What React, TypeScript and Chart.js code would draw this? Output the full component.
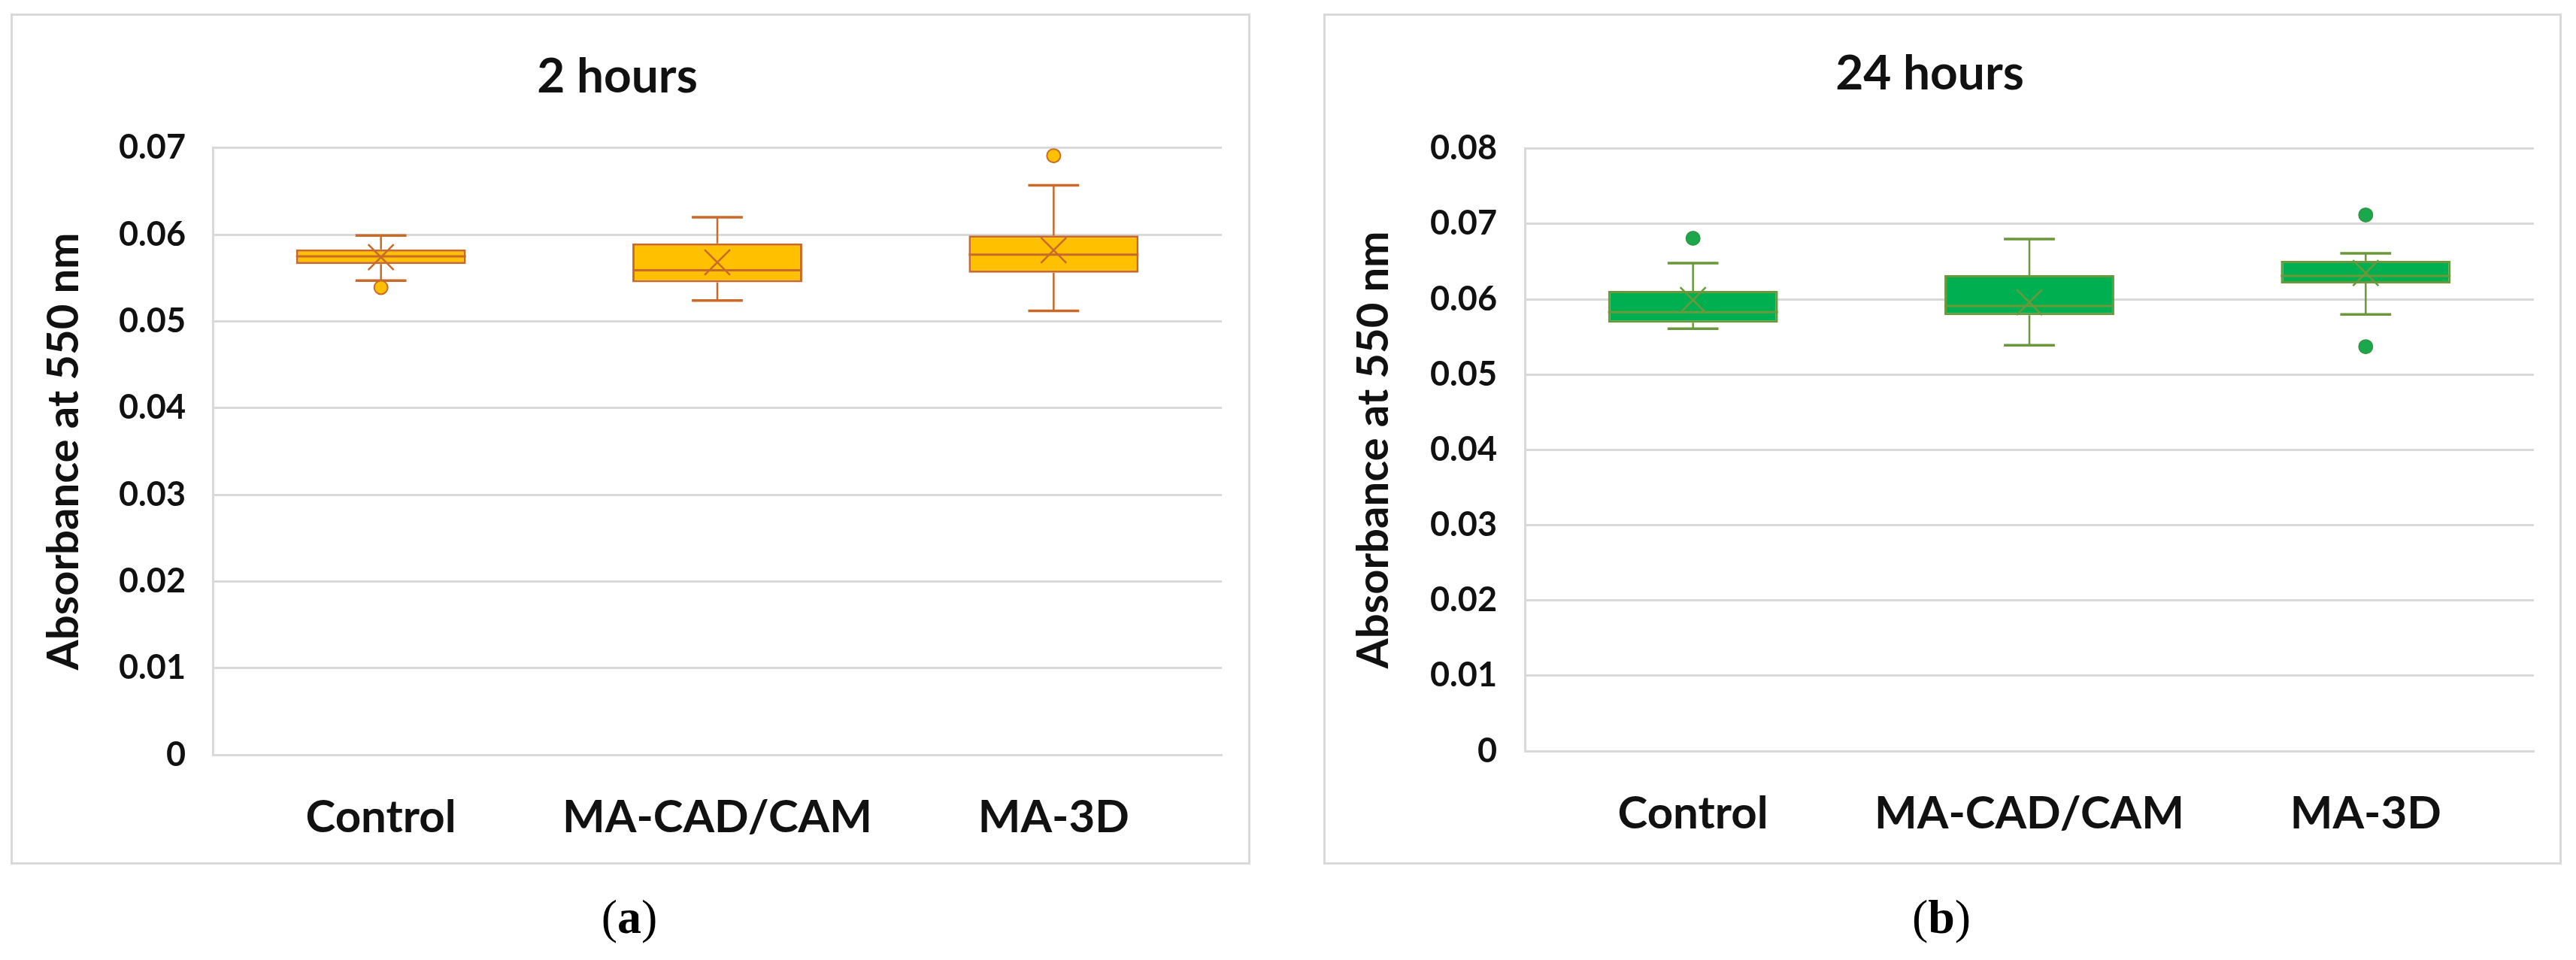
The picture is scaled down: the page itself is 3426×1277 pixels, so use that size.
import React, { useEffect, useRef } from "react";
import { Chart, registerables } from "chart.js";

Chart.register(...registerables);

// ---------- data ----------
const categories = ["Control", "MA-CAD/CAM", "MA-3D"];

// panel (a) — 2 hours
const title2h = "2 hours";
const yTicks2h = [0, 0.01, 0.02, 0.03, 0.04, 0.05, 0.06, 0.07];
const whiskerLow2h = [0.0547, 0.0524, 0.0512];
const q1_2h = [0.0566, 0.0545, 0.0556];
const median2h = [0.0575, 0.0559, 0.0577];
const q3_2h = [0.0583, 0.059, 0.0599];
const whiskerHigh2h = [0.0599, 0.062, 0.0657];
const mean2h = [0.0574, 0.0568, 0.0582];
const outlierCats2h = ["Control", "MA-3D"];
const outlierVals2h = [0.0539, 0.0691];

// panel (b) — 24 hours
const title24h = "24 hours";
const yTicks24h = [0, 0.01, 0.02, 0.03, 0.04, 0.05, 0.06, 0.07, 0.08];
const whiskerLow24h = [0.0561, 0.0539, 0.058];
const q1_24h = [0.0569, 0.0579, 0.0621];
const median24h = [0.0583, 0.0591, 0.0631];
const q3_24h = [0.0611, 0.0632, 0.0651];
const whiskerHigh24h = [0.0648, 0.068, 0.0661];
const mean24h = [0.0599, 0.0596, 0.0635];
const outlierCats24h = ["Control", "MA-3D", "MA-3D"];
const outlierVals24h = [0.0681, 0.0712, 0.0537];

const yAxisTitle = "Absorbance at 550 nm";

// ---------- styles ----------
const FONT = "Lato";
const GRID = "#D9D9D9";
const TEXT = "#111111";

type Panel = {
  title: string;
  yTicks: number[];
  low: number[];
  q1: number[];
  med: number[];
  q3: number[];
  high: number[];
  mean: number[];
  outCats: string[];
  outVals: number[];
  fill: string;
  line: string;
  dotFill: string;
  dotLine: string;
  // layout
  frame: { left: number; top: number; width: number; height: number };
  yWidth: number;
  yTitlePad: number;
  yTickPad: number;
  xHeight: number;
  padRight: number;
  titlePadTop: number;
  titlePadBottom: number;
};

function whiskerPlugin(p: Panel) {
  return {
    id: "whiskers",
    afterDatasetDraw(chart: any, args: any) {
      if (args.index !== 0) return;
      const ctx = chart.ctx;
      const xs = chart.scales.x;
      const ys = chart.scales.y;
      const meta = chart.getDatasetMeta(0);
      ctx.save();
      ctx.strokeStyle = p.line;
      ctx.lineCap = "butt";
      categories.forEach((_, i) => {
        const el: any = meta.data[i];
        const cx = xs.getPixelForValue(i);
        const half = el.width / 2;
        const cap = half * 0.3;
        const yLow = ys.getPixelForValue(p.low[i]);
        const yQ1 = ys.getPixelForValue(p.q1[i]);
        const yMed = ys.getPixelForValue(p.med[i]);
        const yQ3 = ys.getPixelForValue(p.q3[i]);
        const yHigh = ys.getPixelForValue(p.high[i]);
        ctx.lineWidth = 2.5;
        ctx.beginPath();
        ctx.moveTo(cx, yHigh);
        ctx.lineTo(cx, yQ3);
        ctx.moveTo(cx, yQ1);
        ctx.lineTo(cx, yLow);
        ctx.stroke();
        ctx.lineWidth = 3.5;
        ctx.beginPath();
        ctx.moveTo(cx - cap, yHigh);
        ctx.lineTo(cx + cap, yHigh);
        ctx.moveTo(cx - cap, yLow);
        ctx.lineTo(cx + cap, yLow);
        ctx.stroke();
        ctx.lineWidth = 3;
        ctx.beginPath();
        ctx.moveTo(cx - half, yMed);
        ctx.lineTo(cx + half, yMed);
        ctx.stroke();
      });
      ctx.restore();
    },
  };
}

function BoxChart({ p }: { p: Panel }) {
  const ref = useRef<HTMLCanvasElement | null>(null);
  const cw = p.frame.width - 6;
  const ch = p.frame.height - 6;
  useEffect(() => {
    if (!ref.current) return;
    const yMax = p.yTicks[p.yTicks.length - 1];
    const chart = new Chart(ref.current, {
      type: "bar",
      data: {
        labels: categories,
        datasets: [
          {
            type: "bar",
            data: categories.map((_, i) => [p.q1[i], p.q3[i]]) as any,
            backgroundColor: p.fill,
            borderColor: p.line,
            borderWidth: 3,
            borderSkipped: false,
            barPercentage: 0.505,
            categoryPercentage: 1,
            order: 3,
          } as any,
          {
            type: "line",
            data: p.outCats.map((c, i) => ({ x: c, y: p.outVals[i] })) as any,
            showLine: false,
            pointStyle: "circle",
            pointRadius: 9,
            pointBackgroundColor: p.dotFill,
            pointBorderColor: p.dotLine,
            pointBorderWidth: 2,
            order: 2,
          } as any,
          {
            type: "line",
            data: p.mean,
            showLine: false,
            pointStyle: "crossRot",
            pointRadius: 24,
            pointBorderColor: p.line,
            pointBorderWidth: 2.5,
            order: 1,
          } as any,
        ],
      },
      options: {
        animation: false,
        responsive: false,
        devicePixelRatio: 1,
        layout: { padding: { left: 0, right: p.padRight, top: 0, bottom: 0 } },
        plugins: {
          legend: { display: false },
          tooltip: { enabled: false },
          title: {
            display: true,
            text: p.title,
            color: TEXT,
            font: { family: FONT, size: 64, weight: "bold" },
            padding: { top: p.titlePadTop, bottom: p.titlePadBottom },
          },
        },
        scales: {
          x: {
            type: "category",
            grid: { display: false, drawTicks: false },
            border: { display: true, color: GRID, width: 3 },
            ticks: {
              color: TEXT,
              font: { family: FONT, size: 60, weight: "bold" },
              padding: 48,
              maxRotation: 0,
            },
            afterFit: (s: any) => {
              s.height = p.xHeight;
            },
          },
          y: {
            min: 0,
            max: yMax,
            grid: { color: GRID, lineWidth: 3, drawTicks: false },
            border: { display: true, color: GRID, width: 3 },
            afterBuildTicks: (s: any) => {
              s.ticks = p.yTicks.map((v) => ({ value: v }));
            },
            ticks: {
              color: TEXT,
              font: { family: FONT, size: 45, weight: "bold" },
              padding: p.yTickPad,
              callback: (v: any) => (Number(v) === 0 ? "0" : Number(v).toFixed(2)),
            },
            title: {
              display: true,
              text: yAxisTitle,
              color: TEXT,
              font: { family: FONT, size: 58, weight: "bold" },
              padding: { top: p.yTitlePad, bottom: 0 },
            },
            afterFit: (s: any) => {
              s.width = p.yWidth;
            },
          },
        },
      } as any,
      plugins: [whiskerPlugin(p)],
    });
    return () => chart.destroy();
  }, [p]);
  return (
    <div
      style={{
        position: "absolute",
        left: p.frame.left,
        top: p.frame.top,
        width: p.frame.width,
        height: p.frame.height,
        boxSizing: "border-box",
        border: `3px solid ${GRID}`,
        background: "#fff",
      }}
    >
      <canvas ref={ref} width={cw} height={ch} style={{ display: "block", width: cw, height: ch }} />
    </div>
  );
}

const panelA: Panel = {
  title: title2h,
  yTicks: yTicks2h,
  low: whiskerLow2h,
  q1: q1_2h,
  med: median2h,
  q3: q3_2h,
  high: whiskerHigh2h,
  mean: mean2h,
  outCats: outlierCats2h,
  outVals: outlierVals2h,
  fill: "#FFC000",
  line: "#C96A2A",
  dotFill: "#FFC000",
  dotLine: "#C96A2A",
  frame: { left: 14, top: 18, width: 1649, height: 1132 },
  yWidth: 266,
  yTitlePad: 33,
  yTickPad: 36,
  xHeight: 143,
  padRight: 35,
  titlePadTop: 43,
  titlePadBottom: 56,
};

const panelB: Panel = {
  title: title24h,
  yTicks: yTicks24h,
  low: whiskerLow24h,
  q1: q1_24h,
  med: median24h,
  q3: q3_24h,
  high: whiskerHigh24h,
  mean: mean24h,
  outCats: outlierCats24h,
  outVals: outlierVals24h,
  fill: "#00B050",
  line: "#6A983A",
  dotFill: "#1AA84C",
  dotLine: "#2E9A45",
  frame: { left: 1760, top: 18, width: 1647, height: 1132 },
  yWidth: 265,
  yTitlePad: 29,
  yTickPad: 37,
  xHeight: 148,
  padRight: 34,
  titlePadTop: 39,
  titlePadBottom: 61,
};

function Caption({ letter, cx }: { letter: string; cx: number }) {
  return (
    <div
      style={{
        position: "absolute",
        left: cx - 100,
        top: 1188,
        width: 200,
        textAlign: "center",
        fontFamily: '"Liberation Serif", "Times New Roman", serif',
        fontSize: 64,
        lineHeight: "64px",
        color: "#000",
      }}
    >
      (<b>{letter}</b>)
    </div>
  );
}

export default function App() {
  return (
    <div style={{ position: "absolute", left: 0, top: 0, width: 3426, height: 1277, background: "#fff", overflow: "hidden" }}>
      <BoxChart p={panelA} />
      <BoxChart p={panelB} />
      <Caption letter="a" cx={837} />
      <Caption letter="b" cx={2582} />
    </div>
  );
}
